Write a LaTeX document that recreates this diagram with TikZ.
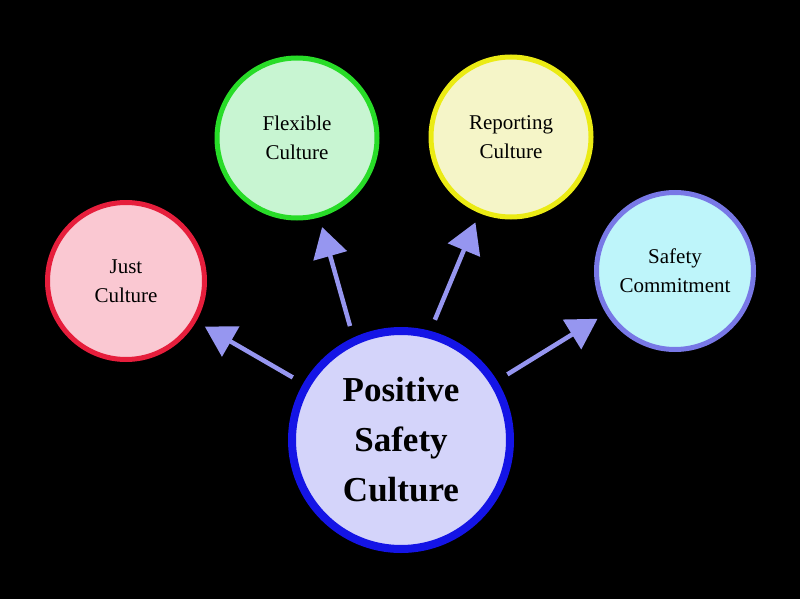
\documentclass[tikz,border=0pt]{standalone}
\usepackage{fontspec}
\setmainfont{Liberation Serif}
\usetikzlibrary{arrows.meta}
\definecolor{arr}{RGB}{150,150,240}
\tikzset{
 bub/.style={circle,line width=5pt,inner sep=0pt,align=center,font=\fontsize{21}{29}\selectfont},
 conn/.style={arr,line width=4.5pt,-{Triangle[length=30pt,width=34pt]},shorten <=12pt,shorten >=10pt}
}
\begin{document}
\begin{tikzpicture}[x=1pt,y=-1pt]
\fill[black] (0,0) rectangle (800,599);
\useasboundingbox (0,0) rectangle (800,599);
\node[bub,draw={rgb,255:red,20;green,20;blue,230},line width=8pt,fill={rgb,255:red,212;green,212;blue,250},minimum size=218pt,font=\bfseries\fontsize{35}{50}\selectfont] (c) at (401,440) {Positive\\Safety\\Culture};
\node[bub,draw={rgb,255:red,230;green,30;blue,60},fill={rgb,255:red,250;green,200;blue,210},minimum size=157pt] (j) at (126,281) {Just\\Culture};
\node[bub,draw={rgb,255:red,40;green,220;blue,40},fill={rgb,255:red,200;green,245;blue,210},minimum size=160pt] (f) at (297,138) {Flexible\\Culture};
\node[bub,draw={rgb,255:red,235;green,235;blue,20},fill={rgb,255:red,245;green,245;blue,200},minimum size=160pt] (r) at (511,137) {Reporting\\Culture};
\node[bub,draw={rgb,255:red,120;green,120;blue,230},fill={rgb,255:red,190;green,245;blue,250},minimum size=157pt] (s) at (675,271) {Safety\\Commitment};
\draw[conn] (c) -- (j);
\draw[conn] (c.115) -- (f);
\draw[conn] (c.75) -- (r);
\draw[conn] (c) -- (s);
\end{tikzpicture}
\end{document}
